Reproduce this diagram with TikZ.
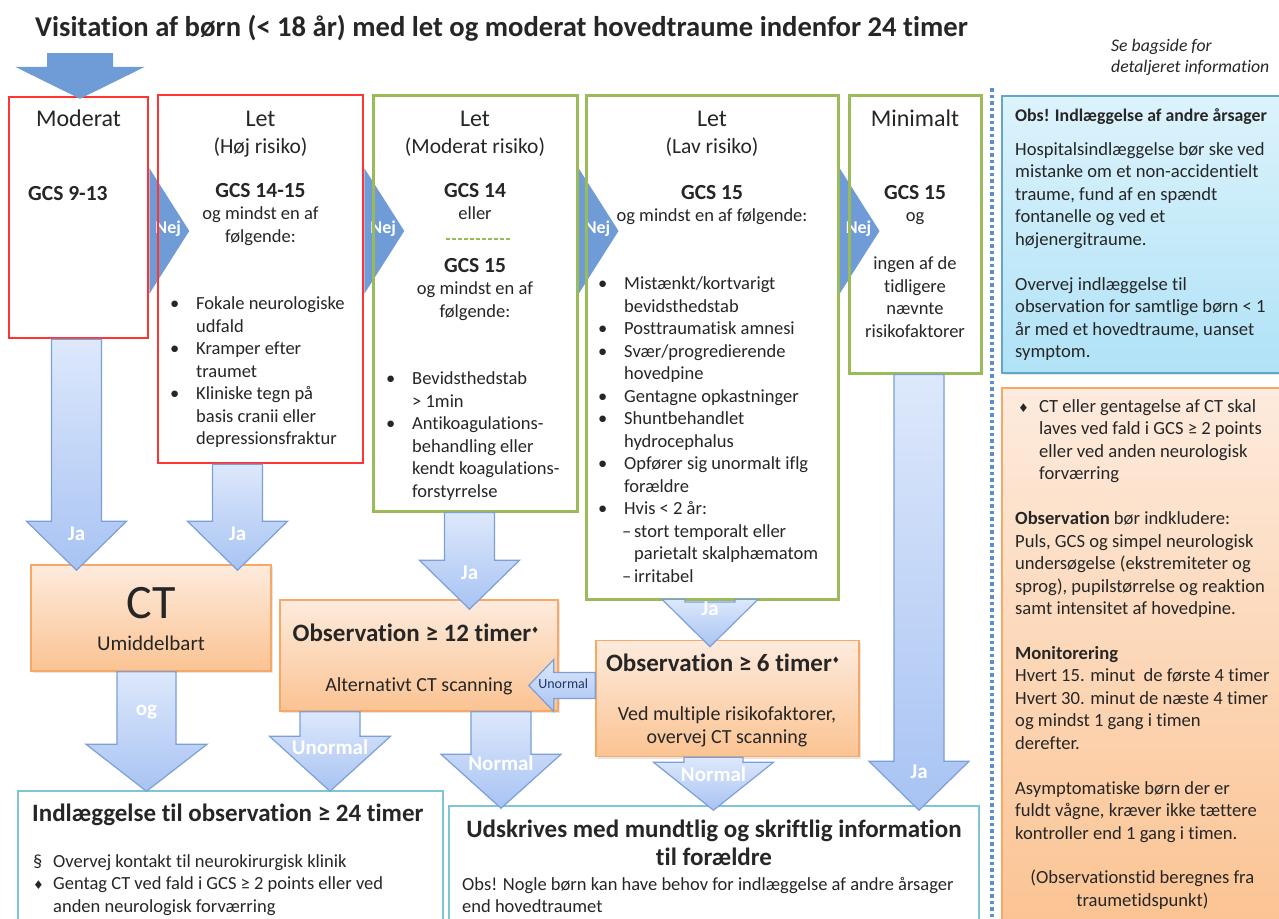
\documentclass[tikz,border=0pt]{standalone}
\usepackage{fontspec}
\setmainfont{Carlito}[Ligatures=NoCommon]
\newfontfamily\symf{DejaVu Sans}
\usetikzlibrary{positioning, shapes, arrows, calc, shadows}

\definecolor{rodkant}{HTML}{FF3535}
\definecolor{groenkant}{HTML}{9BBB59}
\definecolor{nejblaa}{HTML}{6F9CD7}
\definecolor{pilkant}{HTML}{7C9FD6}
\definecolor{piltop}{HTML}{DDE8FB}
\definecolor{pilbund}{HTML}{A8C3F3}
\definecolor{orangekant}{HTML}{F8A866}
\definecolor{orangetop}{HTML}{FDEBDD}
\definecolor{orangebund}{HTML}{FBC392}
\definecolor{tyrkiskant}{HTML}{80C5D5}
\definecolor{blaakant}{HTML}{62A8C6}
\definecolor{blaatop}{HTML}{DCF3FC}
\definecolor{blaabund}{HTML}{B0E2F6}
\definecolor{prikblaa}{HTML}{5C8ED3}
\definecolor{tekstfarve}{HTML}{262626}
\definecolor{unormalblaa}{HTML}{1F3864}

\pgfdeclarelayer{bag}
\pgfsetlayers{bag,main}

\newcommand{\ruder}{{\symf\fontsize{12}{12}\selectfont\char"2666}}
\newcommand{\hruder}{\raisebox{8pt}{\symf\fontsize{9}{9}\selectfont\char"2666}}
\newcommand{\pkt}{\makebox[26pt][l]{\textbullet}}
\newcommand{\gcsfont}{\fontsize{21.5}{22.5}\selectfont\bfseries}
\newcommand{\storfont}{\fontsize{24}{27}\selectfont}

\tikzset{
  rodboks/.style={draw=rodkant, line width=2.5pt, inner sep=0pt},
  groenboks/.style={draw=groenkant, line width=3pt, inner sep=0pt},
  orangeboks/.style={draw=orangekant, line width=1.5pt, top color=orangetop, bottom color=orangebund, inner sep=0pt,
    drop shadow={shadow xshift=2pt, shadow yshift=-2pt, opacity=0.2}},
  tyrkisboks/.style={draw=tyrkiskant, line width=1.5pt, fill=white, inner sep=0pt},
  blaaboks/.style={draw=blaakant, line width=1.5pt, top color=blaatop, bottom color=blaabund, inner sep=0pt,
    drop shadow={shadow xshift=2pt, shadow yshift=-2pt, opacity=0.2}},
  pilfyld/.style={draw=pilkant, line width=1.2pt, top color=piltop, bottom color=pilbund},
  nejfyld/.style={fill=nejblaa},
  pilord/.style={text=white, inner sep=0pt, font=\fontsize{21}{21}\selectfont\bfseries},
  nejord/.style={text=white, inner sep=0pt, font=\fontsize{18}{18}\selectfont\bfseries},
  tekst/.style={text=tekstfarve, inner sep=0pt, font=\fontsize{18.5}{22.5}\selectfont},
  overskrift/.style={tekst, font=\fontsize{21.5}{27}\selectfont},
  obsoverskrift/.style={tekst, font=\fontsize{25}{28}\selectfont\bfseries},
  obstekst/.style={tekst, font=\fontsize{20}{23}\selectfont},
  hoejre/.style={tekst, font=\fontsize{18.6}{22.45}\selectfont}
}

% blaa "Nej"-pil fra kasse #1 til naeste kasse
\newcommand{\nejpil}[1]{%
  \fill[nejfyld] (#1.east |- nejtop) -- ($(#1.east |- nejmid)+(40,0)$) -- (#1.east |- nejbund) -- cycle;
  \node[nejord] at ($(#1.east |- nejmid)+(19,-2)$) {Nej};}

% lodret blokpil: fra, til, halv skaft, halvt hoved, hovedlaengde, tekst, tekstafstand
\newcommand{\nedpil}[7]{%
  \draw[pilfyld] let \p1=#1, \p2=#2 in
    (\x1-#3,\y1) -- (\x1+#3,\y1) -- (\x1+#3,\y2+#5) -- (\x1+#4,\y2+#5)
    -- (\x1,\y2) -- (\x1-#4,\y2+#5) -- (\x1-#3,\y2+#5) -- cycle;
  \path let \p1=#1, \p2=#2 in node[pilord] at (\x1,\y2+#7) {#6};}

\begin{document}
\begin{tikzpicture}[x=1pt, y=-1pt]
\useasboundingbox (0,0) rectangle (1279,918);
\coordinate (nejtop) at (0,168);
\coordinate (nejmid) at (0,231);
\coordinate (nejbund) at (0,294);
\coordinate (indgang) at (80,53);

% kasser
\node[rodboks, minimum width=139pt, minimum height=241pt] (mod) at (78.5,217.5) {};
\node[rodboks, minimum width=205pt, minimum height=368pt] (hoj) at (260.5,279) {};
\node[groenboks, minimum width=204pt, minimum height=416pt] (modrisk) at (475,303) {};
\node[groenboks, minimum width=252pt, minimum height=504pt] (lav) at (712,347) {};
\node[groenboks, minimum width=132pt, minimum height=278pt] (mini) at (915,234) {};
\node[orangeboks, minimum width=240pt, minimum height=106pt] (ct) at (151,618) {};
\node[orangeboks, minimum width=278pt, minimum height=111pt] (obs12) at (419,655.5) {};
\node[orangeboks, minimum width=263pt, minimum height=116pt] (obs6) at (727.5,698.5) {};
\node[tyrkisboks, minimum width=425pt, minimum height=139pt] (indl) at (230.5,860.5) {};
\node[tyrkisboks, minimum width=530pt, minimum height=124pt] (udsk) at (714,868) {};
\node[blaaboks, minimum width=283pt, minimum height=277pt] (obsinfo) at (1143.5,234.5) {};
\node[orangeboks, minimum width=283pt, minimum height=542pt] (ctinfo) at (1143.5,659) {};

\begin{pgfonlayer}{bag}
\fill[white] (0,0) rectangle (1279,918);
\nejpil{mod}
\nejpil{hoj}
\nejpil{modrisk}
\nejpil{lav}
\end{pgfonlayer}

\draw[prikblaa, line width=3.5pt, dash pattern=on 3.5pt off 3pt] (992,88) -- (992,918);

% pile
\fill[nejfyld] let \p1=(indgang), \p2=($(mod.north)+(0,3)$) in
  (\x1-33pt,\y1) -- (\x1+33pt,\y1) -- (\x1+33pt,\y2+32pt) -- (\x1+65pt,\y2+32pt)
  -- (\x1,\y2) -- (\x1-65pt,\y2+32pt) -- (\x1-33pt,\y2+32pt) -- cycle;
\nedpil{($(mod.south)+(-2,0)$)}{($(ct.north)+(0,6)$)}{25pt}{50pt}{49pt}{Ja}{36pt}
\nedpil{($(hoj.south)+(-23,0)$)}{($(ct.north)+(0,6)$)}{25pt}{50pt}{49pt}{Ja}{36pt}
\nedpil{($(modrisk.south)+(-5.5,0)$)}{($(obs12.north)+(0,10)$)}{25pt}{50pt}{49pt}{Ja}{36pt}
\nedpil{($(lav.south)+(-2,1.5)$)}{($(obs6.north)+(0,7)$)}{25pt}{48pt}{47.5pt}{Ja}{38pt}
\nedpil{($(ct.south)+(-4.5,0)$)}{($(indl.north)+(0,1)$)}{29.5pt}{60.5pt}{47pt}{og}{79pt}
\nedpil{($(obs12.south)+(-89,0)$)}{($(indl.north)+(0,1)$)}{30pt}{60.5pt}{55pt}{Unormal}{44pt}
\nedpil{($(obs12.south)+(82,0)$)}{($(udsk.north)+(0,3)$)}{30pt}{60pt}{54pt}{Normal}{45pt}
\nedpil{($(obs6.south)+(-14,0)$)}{($(udsk.north)+(0,5)$)}{29.5pt}{60pt}{48pt}{Normal}{36pt}
\nedpil{($(mini.south)+(4,0)$)}{($(udsk.north)+(0,5)$)}{25pt}{50pt}{49pt}{Ja}{38pt}
\draw[pilfyld] let \p1=($(obs6.west)+(0,-13)$), \p2=($(obs12.east)+(-30,0)$) in
  (\x1,\y1+13pt) -- (\x2+25pt,\y1+13pt) -- (\x2+25pt,\y1+26pt) -- (\x2,\y1)
  -- (\x2+25pt,\y1-26pt) -- (\x2+25pt,\y1-13pt) -- (\x1,\y1-13pt) -- cycle;
\node[inner sep=0pt, text=unormalblaa, font=\fontsize{14}{14}\selectfont] (unormal) at ($(obs6.west)+(-32,-15)$) {Unormal};

% overskrift
\node[tekst, anchor=base west, font=\fontsize{28.6}{32}\selectfont\bfseries] (titel) at (35,36)
  {Visitation af børn (< 18 år) med let og moderat hovedtraume indenfor 24 timer};
\node[tekst, anchor=base west, font=\fontsize{17.7}{21}\selectfont\itshape] (bagside) at (1111,51)
  {\begin{tabular}[t]{@{}l@{}}Se bagside for\\detaljeret information\end{tabular}};

% Moderat
\node[overskrift, anchor=base, font=\storfont] (modtxt) at (78.5,126) {Moderat};
\node[tekst, anchor=base west, font=\gcsfont] (modgcs) at (28,200) {GCS 9-13};

% Let, hoej risiko
\node[overskrift, anchor=base] (hojtxt) at (260.5,126) {\begin{tabular}[t]{@{}c@{}}{\storfont Let}\\(Høj risiko)\end{tabular}};
\node[tekst, anchor=base] (hojgcs) at (260.5,197)
  {\begin{tabular}[t]{@{}c@{}}{\gcsfont GCS 14-15}\\og mindst en af\\følgende:\end{tabular}};
\node[tekst, anchor=base west] (hojliste) at (170,309.5)
  {\begin{tabular}[t]{@{}l@{}l@{}}
  \pkt & Fokale neurologiske\\ & udfald\\
  \pkt & Kramper efter\\ & traumet\\
  \pkt & Kliniske tegn på\\ & basis cranii eller\\ & depressionsfraktur
  \end{tabular}};

% Let, moderat risiko
\node[overskrift, anchor=base] (modrisktxt) at (475,126) {\begin{tabular}[t]{@{}c@{}}{\storfont Let}\\(Moderat risiko)\end{tabular}};
\node[tekst, anchor=base] (modriskgcs) at (475,197) {\begin{tabular}[t]{@{}c@{}}{\gcsfont GCS 14}\\eller\end{tabular}};
\draw[groenkant, line width=2pt, dash pattern=on 4pt off 2pt] (446,239) -- (510,239);
\node[tekst, anchor=base] (modriskgcs2) at (475,272)
  {\begin{tabular}[t]{@{}c@{}}{\gcsfont GCS 15}\\og mindst en af\\følgende:\end{tabular}};
\node[tekst, anchor=base west] (modriskliste) at (386,384.5)
  {\begin{tabular}[t]{@{}l@{}l@{}}
  \pkt & Bevidsthedstab\\ & > 1min\\
  \pkt & Antikoagulations-\\ & behandling eller\\ & kendt koagulations-\\ & forstyrrelse
  \end{tabular}};

% Let, lav risiko
\node[overskrift, anchor=base] (lavtxt) at (712,126) {\begin{tabular}[t]{@{}c@{}}{\storfont Let}\\(Lav risiko)\end{tabular}};
\node[tekst, anchor=base] (lavgcs) at (712,199)
  {\begin{tabular}[t]{@{}c@{}}{\gcsfont GCS 15}\\og mindst en af følgende:\end{tabular}};
\node[tekst, anchor=base west] (lavliste) at (598,289.5)
  {\begin{tabular}[t]{@{}l@{}l@{}}
  \pkt & Mistænkt/kortvarigt\\ & bevidsthedstab\\
  \pkt & Posttraumatisk amnesi\\
  \pkt & Svær/progredierende\\ & hovedpine\\
  \pkt & Gentagne opkastninger\\
  \pkt & Shuntbehandlet\\ & hydrocephalus\\
  \pkt & Opfører sig unormalt iflg\\ & forældre\\
  \pkt & Hvis < 2 år:\\
  \multicolumn{2}{@{}l@{}}{\hspace{24pt}\makebox[12pt][l]{–}stort temporalt eller}\\
  & \hspace{10pt}parietalt skalphæmatom\\
  \multicolumn{2}{@{}l@{}}{\hspace{24pt}\makebox[12pt][l]{–}irritabel}
  \end{tabular}};

% Minimalt
\node[overskrift, anchor=base, font=\storfont] (minitxt) at (915,126) {Minimalt};
\node[tekst, anchor=base] (minigcs) at (915,199) {\begin{tabular}[t]{@{}c@{}}{\gcsfont GCS 15}\\og\end{tabular}};
\node[tekst, anchor=base] (minirest) at (915,269.5)
  {\begin{tabular}[t]{@{}c@{}}ingen af de\\tidligere\\nævnte\\risikofaktorer\end{tabular}};

% CT og observation
\node[tekst, anchor=base, font=\fontsize{48}{48}\selectfont] (cttxt) at (151,618) {CT};
\node[obstekst, anchor=base, font=\fontsize{21}{24}\selectfont] (ctsub) at (151,650) {Umiddelbart};
\node[obsoverskrift, anchor=base] (obs12txt) at (416,641) {Observation ≥ 12 timer\hruder};
\node[obstekst, anchor=base] (obs12sub) at (419,691) {Alternativt CT scanning};
\node[obsoverskrift, anchor=base] (obs6txt) at (723,671) {Observation ≥ 6 timer\hruder};
\node[obstekst, anchor=base] (obs6sub) at (727,720)
  {\begin{tabular}[t]{@{}c@{}}Ved multiple risikofaktorer,\\overvej CT scanning\end{tabular}};

% bund
\node[obsoverskrift, anchor=base west] (indltxt) at (32,821) {Indlæggelse til observation ≥ 24 timer};
\node[tekst, anchor=base west] (indlliste) at (33,867)
  {\begin{tabular}[t]{@{}l@{}l@{}}
  \makebox[20pt][l]{\S} & Overvej kontakt til neurokirurgisk klinik\\
  \makebox[20pt][l]{\ruder} & Gentag CT ved fald i GCS ≥ 2 points eller ved\\
  & anden neurologisk forværring
  \end{tabular}};
\node[obsoverskrift, anchor=base] (udsktxt) at (714,837)
  {\begin{tabular}[t]{@{}c@{}}Udskrives med mundtlig og skriftlig information\\til forældre\end{tabular}};
\node[tekst, anchor=base west] (udskobs) at (462,890)
  {\begin{tabular}[t]{@{}l@{}}Obs! Nogle børn kan have behov for indlæggelse af andre årsager\\end hovedtraumet\end{tabular}};

% hoejre side
\node[hoejre, anchor=base west, font=\fontsize{17.8}{22}\selectfont\bfseries] (obsinfohead) at (1015,121) {Obs! Indlæggelse af andre årsager};
\node[hoejre, anchor=base west] (obsinfotxt) at (1015,155.5)
  {\begin{tabular}[t]{@{}l@{}}
  Hospitalsindlæggelse bør ske ved\\mistanke om et non-accidentielt\\traume, fund af en spændt\\fontanelle og ved et\\højenergitraume.\\ \\
  Overvej indlæggelse til\\observation for samtlige børn < 1\\år med et hovedtraume, uanset\\symptom.
  \end{tabular}};
\node[hoejre, anchor=base west] (ctinfotxt) at (1015,412.5)
  {\begin{tabular}[t]{@{}l@{}l@{}}
  \makebox[24pt][l]{\hspace{3pt}\ruder} & CT eller gentagelse af CT skal\\
  & laves ved fald i GCS ≥ 2 points\\
  & eller ved anden neurologisk\\
  & forværring\\
  & \\
  \multicolumn{2}{@{}l@{}}{\textbf{Observation} bør indkludere:}\\
  \multicolumn{2}{@{}l@{}}{Puls, GCS og simpel neurologisk}\\
  \multicolumn{2}{@{}l@{}}{undersøgelse (ekstremiteter og}\\
  \multicolumn{2}{@{}l@{}}{sprog), pupilstørrelse og reaktion}\\
  \multicolumn{2}{@{}l@{}}{samt intensitet af hovedpine.}\\
  & \\
  \multicolumn{2}{@{}l@{}}{\textbf{Monitorering}}\\
  \multicolumn{2}{@{}l@{}}{Hvert 15. minut~ de første 4 timer}\\
  \multicolumn{2}{@{}l@{}}{Hvert 30. minut de næste 4 timer}\\
  \multicolumn{2}{@{}l@{}}{og mindst 1 gang i timen}\\
  \multicolumn{2}{@{}l@{}}{derefter.}\\
  & \\
  \multicolumn{2}{@{}l@{}}{Asymptomatiske børn der er}\\
  \multicolumn{2}{@{}l@{}}{fuldt vågne, kræver ikke tættere}\\
  \multicolumn{2}{@{}l@{}}{kontroller end 1 gang i timen.}\\
  & \\
  \multicolumn{2}{@{}c@{}}{(Observationstid beregnes fra}\\
  \multicolumn{2}{@{}c@{}}{traumetidspunkt)}
  \end{tabular}};
\end{tikzpicture}
\end{document}
